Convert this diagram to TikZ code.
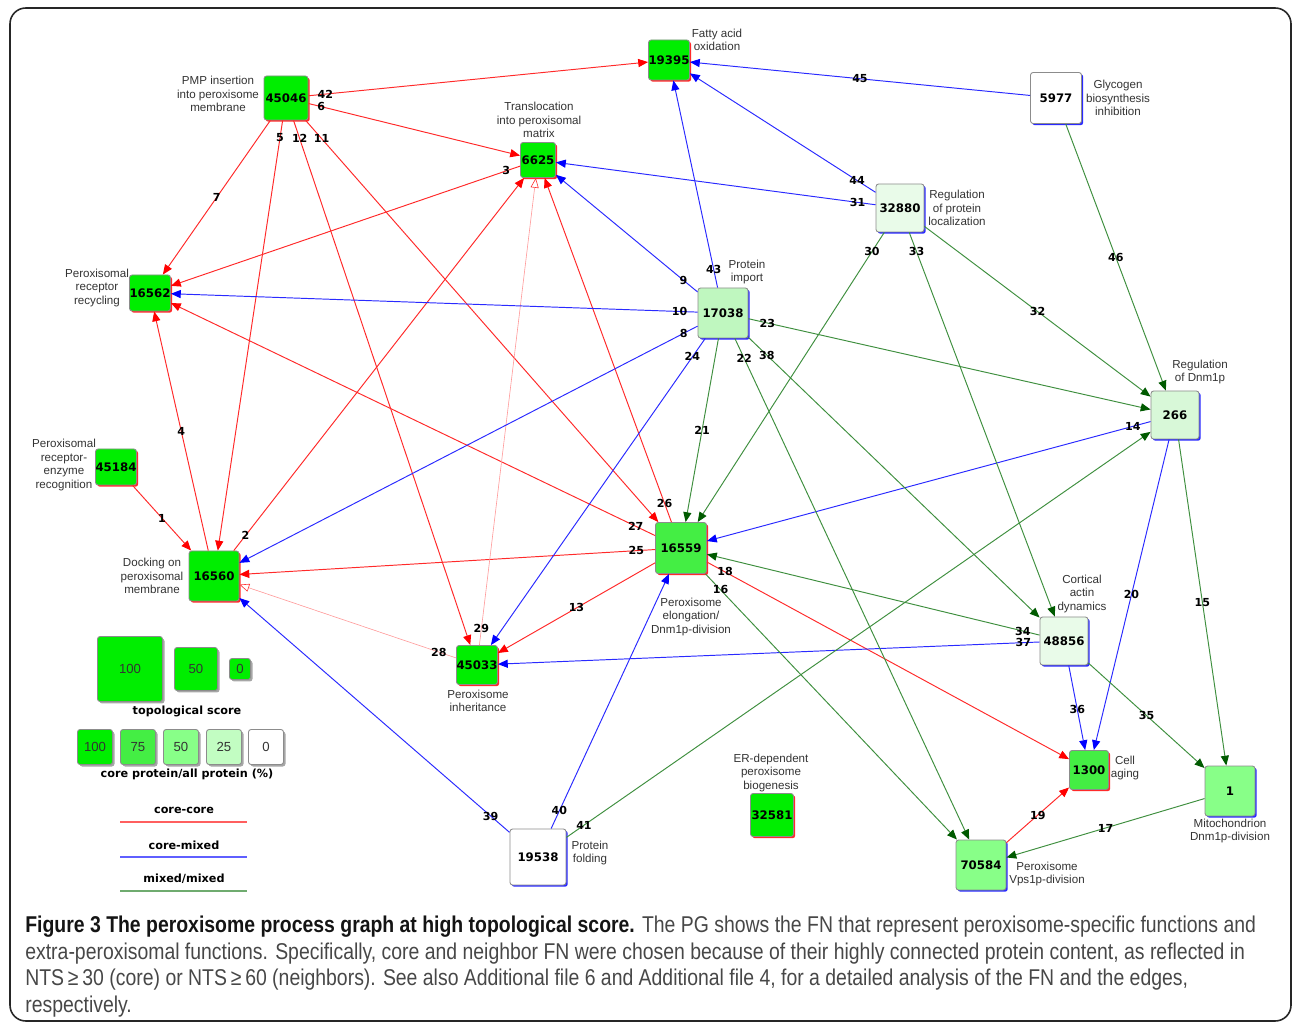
\documentclass[tikz,border=0pt]{standalone}
\usepackage{fontspec}
\setmainfont{Liberation Sans}
\newfontfamily\numfam{DejaVu Sans}
\newfontfamily\capfam[FakeStretch=0.85]{Liberation Sans}
\usetikzlibrary{arrows.meta,shadows}
\definecolor{coregreen}{HTML}{00EE00}
\definecolor{green75}{HTML}{44EE44}
\definecolor{green50}{HTML}{88FF88}
\definecolor{green35}{HTML}{BFF7BF}
\definecolor{green25}{HTML}{D8F8D8}
\definecolor{green10}{HTML}{E9FBE9}
\definecolor{cclr}{HTML}{FF2A2A}
\definecolor{cmix}{HTML}{2A2AFF}
\definecolor{mmix}{HTML}{3F8F3F}
\definecolor{mmixtip}{HTML}{005A00}
\definecolor{faint}{HTML}{FF9A9A}
\definecolor{boxgray}{HTML}{8C8C8C}
\definecolor{labgray}{HTML}{333333}
\newlength{\px}\setlength{\px}{0.02cm}

\begin{document}
\begin{tikzpicture}[x=0.02cm, y=-0.02cm,
  every node/.style={text=labgray},
  fn/.style={draw=boxgray, line width=0.5pt, rounded corners=1.5pt, minimum size=#1\px,
    inner sep=0pt, text=black, font=\numfam\bfseries\fontsize{6.7}{7}\selectfont},
  corefn/.style={drop shadow={shadow xshift=1.7\px, shadow yshift=-1.7\px, fill=cclr, opacity=1}},
  mixedfn/.style={drop shadow={shadow xshift=1.7\px, shadow yshift=-1.7\px, fill=cmix, opacity=1}},
  keybox/.style={font=\fontsize{7.5}{8}\selectfont, text=labgray,
    drop shadow={shadow xshift=2\px, shadow yshift=-2\px, fill=black!35, opacity=1}},
  lab/.style={align=center, inner sep=0pt, font=\fontsize{6.6}{7.7}\selectfont},
  keytitle/.style={inner sep=0pt, text=black, font=\numfam\bfseries\fontsize{6.4}{7}\selectfont},
  num/.style={inner sep=0pt, text=black, font=\numfam\bfseries\fontsize{6.3}{7}\selectfont},
  corecore/.style={draw=cclr, line width=0.55pt, -{Triangle[length=5.6pt,width=4.6pt,color=red]}},
  coremix/.style={draw=cmix, line width=0.55pt, -{Triangle[length=5.6pt,width=4.6pt,color=blue]}},
  mixmix/.style={draw=mmix, line width=0.55pt, -{Triangle[length=5.6pt,width=4.6pt,color=mmixtip]}},
  weakedge/.style={draw=faint, line width=0.35pt, -{Triangle[open,length=5.6pt,width=4.6pt,color=red!80,fill=white]}}]
  \useasboundingbox (0,0) rectangle (1292,1023);
  \draw[black!85, line width=0.9pt, rounded corners=9pt] (10,8) rectangle (1291,1021);

  % function nodes: core ones get a red edge, the others a blue one
  \node[fn=44, fill=coregreen, corefn] (n45046) at (286,98) {45046};
  \node[fn=40, fill=coregreen, corefn] (n19395) at (669,60) {19395};
  \node[fn=35, fill=coregreen, corefn] (n6625) at (538,160) {6625};
  \node[fn=51, fill=white, mixedfn] (n5977) at (1056,98) {5977};
  \node[fn=48, fill=green10, mixedfn] (n32880) at (900,208) {32880};
  \node[fn=36, fill=coregreen, corefn] (n16562) at (150,293) {16562};
  \node[fn=50, fill=green35, mixedfn] (n17038) at (723,313) {17038};
  \node[fn=48, fill=green25, mixedfn] (n266) at (1175,415) {266};
  \node[fn=36, fill=coregreen, corefn] (n45184) at (116,467) {45184};
  \node[fn=50, fill=coregreen, corefn] (n16560) at (214,576) {16560};
  \node[fn=51, fill=green75, corefn] (n16559) at (681,548) {16559};
  \node[fn=48, fill=green10, mixedfn] (n48856) at (1064,641) {48856};
  \node[fn=39, fill=coregreen, corefn] (n45033) at (477,665) {45033};
  \node[fn=39, fill=green75, corefn] (n1300) at (1089,770) {1300};
  \node[fn=50, fill=green50, mixedfn] (n1) at (1230,791) {1};
  \node[fn=50, fill=green50, mixedfn] (n70584) at (981,865) {70584};
  \node[fn=43, fill=coregreen, corefn] (n32581) at (772,815) {32581};
  \node[fn=56, fill=white, mixedfn] (n19538) at (538,857) {19538};

  % names of the functions
  \node[lab] (t45046) at (218,94) {PMP insertion\\into peroxisome\\membrane};
  \node[lab] (t19395) at (717,40) {Fatty acid\\oxidation};
  \node[lab] (t6625) at (539,120) {Translocation\\into peroxisomal\\matrix};
  \node[lab] (t5977) at (1118,98) {Glycogen\\biosynthesis\\inhibition};
  \node[lab] (t32880) at (957,208) {Regulation\\of protein\\localization};
  \node[lab] (t16562) at (97,288) {Peroxisomal\\receptor\\recycling};
  \node[lab] (t17038) at (747,272) {Protein\\import};
  \node[lab] (t266) at (1200,372) {Regulation\\of Dnm1p};
  \node[lab] (t45184) at (64,465) {Peroxisomal\\receptor-\\enzyme\\recognition};
  \node[lab] (t16560) at (152,576) {Docking on\\peroxisomal\\membrane};
  \node[lab] (t16559) at (691,617) {Peroxisome\\elongation/\\Dnm1p-division};
  \node[lab] (t48856) at (1082,594) {Cortical\\actin\\dynamics};
  \node[lab] (t45033) at (478,701) {Peroxisome\\inheritance};
  \node[lab] (t1300) at (1125,768) {Cell\\aging};
  \node[lab] (t1) at (1230,831) {Mitochondrion\\Dnm1p-division};
  \node[lab] (t70584) at (1047,874) {Peroxisome\\Vps1p-division};
  \node[lab] (t32581) at (771,773) {ER-dependent\\peroxisome\\biogenesis};
  \node[lab] (t19538) at (590,853) {Protein\\folding};

  % core-core edges
  \draw[corecore] (n45184) -- node[num,pos=.5]{1} (n16560);
  \draw[corecore] (n16560) -- node[num,pos=.04]{2} (n6625);
  \draw[corecore] (n6625) -- node[num,pos=.04]{3} (n16562);
  \draw[corecore] (n16560) -- node[num,pos=.5]{4} (n16562);
  \draw[corecore] (n45046) -- node[num,pos=.04]{5} (n16560);
  \draw[corecore] (n45046) -- node[num,pos=.06]{6} (n6625);
  \draw[corecore] (n45046) -- node[num,pos=.5]{7} (n16562);
  \draw[corecore] (n45046) -- node[num,pos=.045]{11} (n16559);
  \draw[corecore] (n45046) -- node[num,pos=.035]{12} (n45033);
  \draw[corecore] (n16559) -- node[num,pos=.5]{13} (n45033);
  \draw[corecore] (n16559) -- node[num,pos=.05]{18} (n1300);
  \draw[corecore] (n70584) -- node[num,pos=.5]{19} (n1300);
  \draw[corecore] (n16559) -- node[num,pos=.045]{25} (n16560);
  \draw[corecore] (n16559) -- node[num,pos=.054]{26} (n6625);
  \draw[corecore] (n16559) -- node[num,pos=.04]{27} (n16562);
  \draw[corecore] (n45046) -- node[num,pos=.05]{42} (n19395);
  \draw[weakedge] (n45033) -- node[num,pos=.08]{28} (n16560);
  \draw[weakedge] (n45033) -- node[num,pos=.036]{29} (n6625);

  % core-mixed edges
  \draw[coremix] (n17038) -- node[num,pos=.03]{8} (n16560);
  \draw[coremix] (n17038) -- node[num,pos=.1]{9} (n6625);
  \draw[coremix] (n17038) -- node[num,pos=.034]{10} (n16562);
  \draw[coremix] (n266) -- node[num,pos=.04]{14} (n16559);
  \draw[coremix] (n266) -- node[num,pos=.5]{20} (n1300);
  \draw[coremix] (n17038) -- node[num,pos=.06]{24} (n45033);
  \draw[coremix] (n32880) -- node[num,pos=.056]{31} (n6625);
  \draw[coremix] (n48856) -- node[num,pos=.52]{36} (n1300);
  \draw[coremix] (n48856) -- node[num,pos=.03]{37} (n45033);
  \draw[coremix] (n19538) -- node[num,pos=.07]{39} (n16560);
  \draw[coremix] (n19538) -- node[num,pos=.07]{40} (n16559);
  \draw[coremix] (n17038) -- node[num,pos=.087]{43} (n19395);
  \draw[coremix] (n32880) -- node[num,pos=.1]{44} (n19395);
  \draw[coremix] (n5977) -- node[num,pos=.5]{45} (n19395);

  % mixed/mixed edges
  \draw[mixmix] (n266) -- node[num,pos=.5]{15} (n1);
  \draw[mixmix] (n16559) -- node[num,pos=.06]{16} (n70584);
  \draw[mixmix] (n1) -- node[num,pos=.5]{17} (n70584);
  \draw[mixmix] (n17038) -- node[num,pos=.5]{21} (n16559);
  \draw[mixmix] (n17038) -- node[num,pos=.04]{22} (n70584);
  \draw[mixmix] (n17038) -- node[num,pos=.047]{23} (n266);
  \draw[mixmix] (n32880) -- node[num,pos=.066]{30} (n16559);
  \draw[mixmix] (n32880) -- node[num,pos=.5]{32} (n266);
  \draw[mixmix] (n32880) -- node[num,pos=.05]{33} (n48856);
  \draw[mixmix] (n48856) -- node[num,pos=.05]{34} (n16559);
  \draw[mixmix] (n48856) -- node[num,pos=.5]{35} (n1);
  \draw[mixmix] (n17038) -- node[num,pos=.063]{38} (n48856);
  \draw[mixmix] (n19538) -- node[num,pos=.03]{41} (n266);
  \draw[mixmix] (n5977) -- node[num,pos=.5]{46} (n266);

  % legend
  \node[fn=65, fill=coregreen, keybox] (ts100) at (130,669) {100};
  \node[fn=43, fill=coregreen, keybox] (ts50) at (196,669) {50};
  \node[fn=21, fill=coregreen, keybox] (ts0) at (240,669) {0};
  \node[keytitle] (tstitle) at (187,711) {topological score};
  \node[fn=35, fill=coregreen, keybox] (cp100) at (95,747) {100};
  \node[fn=35, fill=green75, keybox] (cp75) at (138,747) {75};
  \node[fn=35, fill=green50, keybox] (cp50) at (181,747) {50};
  \node[fn=35, fill=green10!60!green50, keybox] (cp25) at (224,747) {25};
  \node[fn=35, fill=white, keybox] (cp0) at (266,747) {0};
  \node[keytitle] (cptitle) at (187,774) {core protein/all protein (\%)};
  \node[keytitle] (kcc) at (184,810) {core-core};
  \draw[cclr!75, line width=0.8pt] (120,822) -- (247,822);
  \node[keytitle] (kcm) at (184,845) {core-mixed};
  \draw[cmix!75, line width=0.8pt] (120,857) -- (247,857);
  \node[keytitle] (kmm) at (184,879) {mixed/mixed};
  \draw[mmix!75, line width=0.8pt] (120,891) -- (247,891);

  % caption
  \node[anchor=north west, align=left, inner sep=0pt, text=black!72,
    font=\capfam\fontsize{13}{15.1}\selectfont] (caption) at (25,916)
    {{\color{black!92}\bfseries Figure 3 The peroxisome process graph at high topological score.} The PG shows the FN that represent peroxisome-specific functions and\\
     extra-peroxisomal functions. Specifically, core and neighbor FN were chosen because of their highly connected protein content, as reflected in\\
     NTS\,≥\,30 (core) or NTS\,≥\,60 (neighbors). See also Additional file 6 and Additional file 4, for a detailed analysis of the FN and the edges,\\
     respectively.};
\end{tikzpicture}
\end{document}
